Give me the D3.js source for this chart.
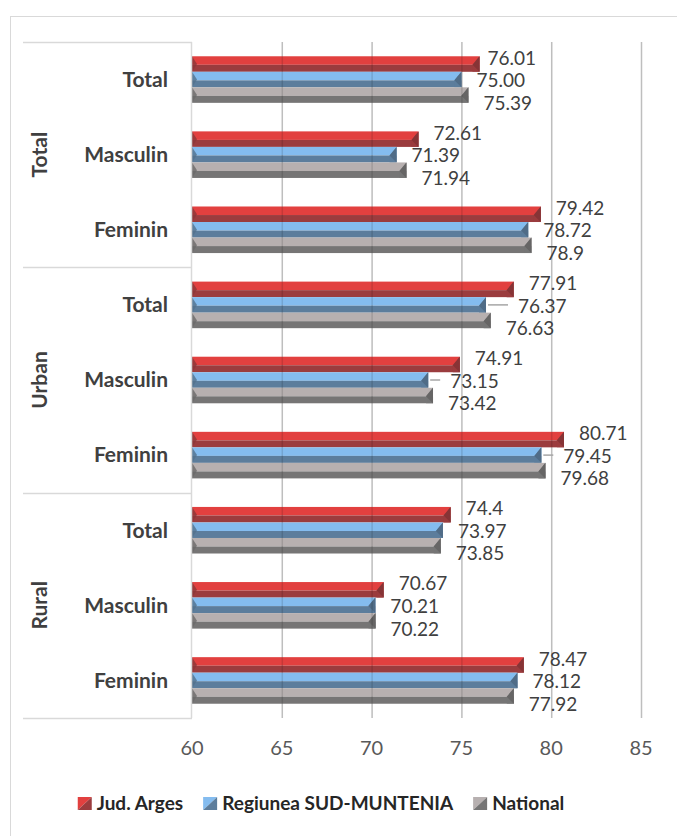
<!DOCTYPE html>
<html>
<head>
<meta charset="utf-8">
<script src="https://cdn.jsdelivr.net/npm/d3@7"></script>
<style>
  body { margin: 0; background: #fff; }
  svg { display: block; font-family: Lato, "Open Sans", sans-serif; }
</style>
</head>
<body>
<div id="chart"></div>
<script>
// categorii (grupa / sub-categorie) si serii
var groups = ["Total", "Urban", "Rural"];
var subcats = ["Total", "Masculin", "Feminin"];
var seriesNames = ["Jud. Arges", "Regiunea SUD-MUNTENIA", "National"];
var arges    = ["76.01", "72.61", "79.42", "77.91", "74.91", "80.71", "74.4", "70.67", "78.47"];
var sudMunt  = ["75.00", "71.39", "78.72", "76.37", "73.15", "79.45", "73.97", "70.21", "78.12"];
var national = ["75.39", "71.94", "78.9", "76.63", "73.42", "79.68", "73.85", "70.22", "77.92"];
var xTicks = [60, 65, 70, 75, 80, 85];

var W = 677, H = 836;
var plot = { left: 192, right: 641, top: 42, bottom: 718 };

// culori: partea de sus deschisa, partea de jos inchisa (efect 3D)
var colorsLight = ["#e2403f", "#84bcef", "#b7b0b0"];
var colorsDark  = ["#9b3c3e", "#5c7d9c", "#767575"];

// deplasari manuale ale etichetelor (ca in Excel), cheie "serie-index"
var labelShift = { "0-0": -7, "1-3": 17, "1-4": 7, "1-5": 7 };

var rows = [];
groups.forEach(function(g, gi) {
  subcats.forEach(function(s, si) {
    rows.push({ id: gi * 3 + si, group: g, sub: s });
  });
});
var allSeries = [arges, sudMunt, national];

var svg = d3.select("#chart").append("svg")
  .attr("width", W).attr("height", H);

// chenarul exterior
svg.append("rect")
  .attr("x", 10.5).attr("y", 16.5)
  .attr("width", W + 20).attr("height", H + 20)
  .attr("fill", "none").attr("stroke", "#d9d9d9");

var x = d3.scaleLinear().domain([60, 85]).range([plot.left, plot.right]);
var y = d3.scaleBand().domain(rows.map(function(d) { return d.id; }))
  .range([plot.top, plot.bottom]).paddingInner(0.38).paddingOuter(0.19);
var ys = d3.scaleBand().domain([0, 1, 2]).range([0, y.bandwidth()]);

// gridlines
svg.append("g").selectAll("line").data(xTicks.slice(1)).enter().append("line")
  .attr("x1", function(d) { return x(d) + 0.5; })
  .attr("x2", function(d) { return x(d) + 0.5; })
  .attr("y1", plot.top).attr("y2", plot.bottom)
  .attr("stroke", "#d9d9d9").attr("stroke-width", 1.5);

// bare
var bars = svg.append("g");
allSeries.forEach(function(vals, si) {
  var g = bars.append("g").selectAll("g").data(rows).enter().append("g");
  var top = function(d) { return y(d.id) + ys(si); };
  var h = ys.bandwidth();
  g.append("rect")
    .attr("x", x(60))
    .attr("y", top)
    .attr("width", function(d) { return x(+vals[d.id]) - x(60); })
    .attr("height", h * 0.55)
    .attr("fill", colorsLight[si]);
  g.append("rect")
    .attr("x", x(60))
    .attr("y", function(d) { return top(d) + h * 0.55; })
    .attr("width", function(d) { return x(+vals[d.id]) - x(60); })
    .attr("height", h * 0.45)
    .attr("fill", colorsDark[si]);
  // capatul din dreapta (bevel)
  g.append("path")
    .attr("d", function(d) {
      var xe = x(+vals[d.id]), t = top(d);
      return "M" + xe + "," + t + "L" + (xe - 7) + "," + (t + h * 0.55) +
        "L" + (xe - 7) + "," + (t + h) + "L" + xe + "," + (t + h) + "Z";
    })
    .attr("fill", colorsDark[si]).attr("opacity", 0.85);
  g.append("path")
    .attr("d", function(d) {
      var xe = x(+vals[d.id]), t = top(d);
      return "M" + xe + "," + t + "L" + (xe - 7) + "," + (t + h * 0.55) +
        "L" + xe + "," + (t + h) + "Z";
    })
    .attr("fill", d3.color(colorsDark[si]).darker(0.4));
  // capatul din stanga
  g.append("path")
    .attr("d", function(d) {
      var x0 = x(60), t = top(d);
      return "M" + x0 + "," + t + "L" + (x0 + 5) + "," + (t + h / 2) + "L" + x0 + "," + (t + h) + "Z";
    })
    .attr("fill", d3.color(colorsDark[si]).darker(0.3)).attr("opacity", 0.8);
});

// liniile de grila trec peste bare (transparenta)
svg.append("g").selectAll("line").data(xTicks.slice(1)).enter().append("line")
  .attr("x1", function(d) { return x(d) + 0.5; })
  .attr("x2", function(d) { return x(d) + 0.5; })
  .attr("y1", plot.top).attr("y2", plot.bottom)
  .attr("stroke", "#000").attr("stroke-opacity", 0.12).attr("stroke-width", 1.5);

// etichete de date
var labels = svg.append("g").attr("font-size", 19).attr("fill", "#404040");
allSeries.forEach(function(vals, si) {
  rows.forEach(function(d) {
    var xe = x(+vals[d.id]);
    var extra = labelShift[si + "-" + d.id] || 0;
    var cy = y(d.id) + ys(si) + ys.bandwidth() / 2 + (si - 1) * 7 + 1;
    if (extra > 5) {
      labels.append("line")
        .attr("x1", xe + 2).attr("x2", xe + 14 + extra - 9)
        .attr("y1", cy - 1).attr("y2", cy - 1)
        .attr("stroke", "#a6a6a6").attr("stroke-width", 1.5);
    }
    labels.append("text")
      .attr("x", xe + 15 + extra)
      .attr("y", cy)
      .attr("dy", "0.35em")
      .text(vals[d.id]);
  });
});

// axa categoriilor
var axisCol = "#d9d9d9";
svg.append("line")
  .attr("x1", plot.left - 0.5).attr("x2", plot.left - 0.5)
  .attr("y1", plot.top).attr("y2", plot.bottom)
  .attr("stroke", axisCol).attr("stroke-width", 1.5);
[0, 1, 2, 3].forEach(function(k) {
  var yy = k < 3 ? y.step() * 3 * k + plot.top : plot.bottom;
  svg.append("line")
    .attr("x1", 23).attr("x2", plot.left)
    .attr("y1", Math.round(yy) + 0.5).attr("y2", Math.round(yy) + 0.5)
    .attr("stroke", axisCol).attr("stroke-width", 1.5);
});

svg.append("g").selectAll("text").data(rows).enter().append("text")
  .attr("x", 168)
  .attr("y", function(d) { return y(d.id) + y.bandwidth() / 2; })
  .attr("dy", "0.35em")
  .attr("text-anchor", "end")
  .attr("font-size", 21).attr("font-weight", "bold").attr("fill", "#404040")
  .text(function(d) { return d.sub; });

var groupH = (plot.bottom - plot.top) / 3;
svg.append("g").selectAll("text").data(groups).enter().append("text")
  .attr("transform", function(d, i) {
    return "translate(40," + (plot.top + groupH * (i + 0.5)) + ") rotate(-90)";
  })
  .attr("dy", "0.35em")
  .attr("text-anchor", "middle")
  .attr("font-size", 21).attr("font-weight", "bold").attr("fill", "#404040")
  .text(function(d) { return d; });

// axa valorilor
svg.append("g").selectAll("text").data(xTicks).enter().append("text")
  .attr("x", function(d) { return x(d); })
  .attr("y", 748)
  .attr("dy", "0.35em")
  .attr("text-anchor", "middle")
  .attr("font-size", 20).attr("fill", "#595959")
  .text(function(d) { return d; });

// legenda
var leg = svg.append("g");
var items = leg.selectAll("g").data(seriesNames).enter().append("g");
items.append("text")
  .attr("x", 19).attr("y", 803).attr("dy", "0.35em")
  .attr("font-size", 19).attr("font-weight", "bold").attr("fill", "#262626")
  .text(function(d) { return d; });
items.append("path")
  .attr("d", "M0,797L14,797L0,810Z")
  .attr("fill", function(d, i) { return colorsLight[i]; });
items.append("path")
  .attr("d", "M14,797L14,810L0,810Z")
  .attr("fill", function(d, i) { return colorsDark[i]; });
var offs = [], cur = 0;
items.each(function() {
  offs.push(cur);
  cur += 19 + d3.select(this).select("text").node().getComputedTextLength() + 20;
});
var total = cur - 20, start = 321 - total / 2;
items.attr("transform", function(d, i) { return "translate(" + (start + offs[i]) + ",0)"; });
</script>
</body>
</html>
